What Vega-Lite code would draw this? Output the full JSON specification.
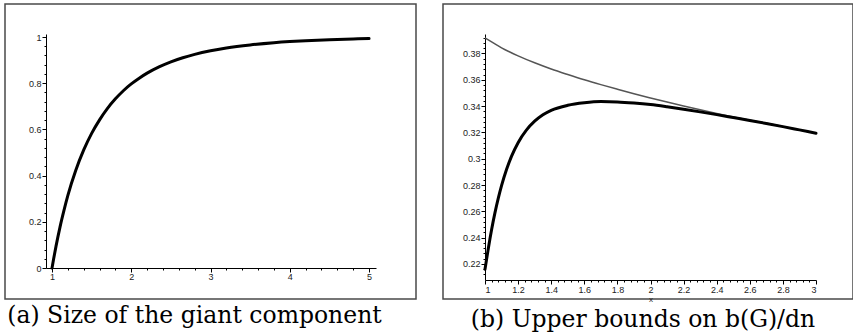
{
  "$schema": "https://vega.github.io/schema/vega-lite/v6.json",
  "padding": {"left": 4, "top": 3, "right": 0, "bottom": 0},
  "background": "white",
  "config": {
    "view": {"stroke": "#4a4a4a", "strokeWidth": 1.5},
    "axis": {"labelFont": "Liberation Sans", "labelFontSize": 9, "labelColor": "#222", "domainColor": "black", "tickColor": "black", "grid": false, "titleFont": "Liberation Sans", "titleFontSize": 8, "titleFontWeight": "normal", "titleColor": "#222", "domainWidth": 1, "tickWidth": 1},
    "title": {"font": "DejaVu Serif", "fontSize": 23.5, "fontWeight": "normal", "color": "black", "orient": "bottom", "offset": 5, "anchor": "middle"}
  },
  "datasets": {
    "giant": [
      {"c": 1.0, "size": 0}, {"c": 1.02, "size": 0.0392}, {"c": 1.05, "size": 0.0937}, {"c": 1.1, "size": 0.176},
      {"c": 1.15, "size": 0.248}, {"c": 1.2, "size": 0.314}, {"c": 1.3, "size": 0.423}, {"c": 1.4, "size": 0.511},
      {"c": 1.5, "size": 0.583}, {"c": 1.6, "size": 0.6414}, {"c": 1.7, "size": 0.691}, {"c": 1.8, "size": 0.7322},
      {"c": 1.9, "size": 0.7674}, {"c": 2.0, "size": 0.7968}, {"c": 2.1, "size": 0.8216}, {"c": 2.2, "size": 0.8435},
      {"c": 2.35, "size": 0.8705}, {"c": 2.5, "size": 0.8926}, {"c": 2.65, "size": 0.9103}, {"c": 2.8, "size": 0.925},
      {"c": 3.0, "size": 0.9405}, {"c": 3.2, "size": 0.9525}, {"c": 3.5, "size": 0.9657}, {"c": 3.8, "size": 0.9754},
      {"c": 4.0, "size": 0.9802}, {"c": 4.2, "size": 0.984}, {"c": 4.5, "size": 0.9883}, {"c": 4.8, "size": 0.9914},
      {"c": 5.0, "size": 0.993}
    ],
    "upper": [
      {"x": 1.0, "bound": 0.3918}, {"x": 1.05, "bound": 0.388}, {"x": 1.1, "bound": 0.3843}, {"x": 1.15, "bound": 0.3811},
      {"x": 1.2, "bound": 0.3782}, {"x": 1.3, "bound": 0.3729}, {"x": 1.4, "bound": 0.3682}, {"x": 1.5, "bound": 0.364},
      {"x": 1.6, "bound": 0.36}, {"x": 1.7, "bound": 0.3563}, {"x": 1.8, "bound": 0.3528}, {"x": 1.9, "bound": 0.3494},
      {"x": 2.0, "bound": 0.3462}, {"x": 2.1, "bound": 0.3431}, {"x": 2.2, "bound": 0.3401}, {"x": 2.3, "bound": 0.3372},
      {"x": 2.4, "bound": 0.3344}, {"x": 2.5, "bound": 0.3318}, {"x": 2.6, "bound": 0.3293}, {"x": 2.7, "bound": 0.3269},
      {"x": 2.8, "bound": 0.3244}, {"x": 2.9, "bound": 0.3219}, {"x": 3.0, "bound": 0.3194}
    ],
    "lower": [
      {"x": 1.0, "bound": 0.216}, {"x": 1.02, "bound": 0.2318}, {"x": 1.04, "bound": 0.2462}, {"x": 1.06, "bound": 0.2588},
      {"x": 1.08, "bound": 0.2698}, {"x": 1.1, "bound": 0.2795}, {"x": 1.13, "bound": 0.2918}, {"x": 1.16, "bound": 0.3018},
      {"x": 1.2, "bound": 0.3122}, {"x": 1.25, "bound": 0.3217}, {"x": 1.3, "bound": 0.3285}, {"x": 1.35, "bound": 0.3334},
      {"x": 1.4, "bound": 0.3368}, {"x": 1.5, "bound": 0.3406}, {"x": 1.6, "bound": 0.3425}, {"x": 1.7, "bound": 0.3434},
      {"x": 1.8, "bound": 0.3432}, {"x": 1.9, "bound": 0.3424}, {"x": 2.0, "bound": 0.3412}, {"x": 2.1, "bound": 0.3395},
      {"x": 2.2, "bound": 0.3376}, {"x": 2.3, "bound": 0.3356}, {"x": 2.4, "bound": 0.3335}, {"x": 2.5, "bound": 0.3313},
      {"x": 2.6, "bound": 0.3291}, {"x": 2.7, "bound": 0.3268}, {"x": 2.8, "bound": 0.3244}, {"x": 2.9, "bound": 0.3219},
      {"x": 3.0, "bound": 0.3194}
    ]
  },
  "spacing": 25,
  "hconcat": [
    {
      "width": 411,
      "height": 295,
      "title": {"text": "(a) Size of the giant component", "dx": -16},
      "data": {"name": "giant"},
      "layer": [
        {
          "mark": {"type": "line", "strokeWidth": 3, "color": "black", "strokeCap": "round", "interpolate": "monotone"},
          "encoding": {
            "x": {"field": "c", "type": "quantitative",
              "scale": {"domain": [0.924, 5.088], "range": [41, 371], "zero": false, "nice": false},
              "axis": {"orient": "bottom", "offset": -31, "values": [1, 2, 3, 4, 5], "format": "~g", "title": null, "tickSize": 4, "labelPadding": 0}},
            "y": {"field": "size", "type": "quantitative",
              "scale": {"domain": [0, 1.013], "range": [264, 30], "zero": false, "nice": false},
              "axis": {"orient": "left", "offset": -41, "values": [0, 0.2, 0.4, 0.6, 0.8, 1], "format": "~g", "title": null, "tickSize": 4, "labelPadding": 1}}
          }
        },
        {
          "mark": {"type": "line", "opacity": 0},
          "encoding": {
            "x": {"field": "c", "type": "quantitative",
              "scale": {"domain": [0.924, 5.088], "range": [41, 371], "zero": false, "nice": false},
              "axis": {"orient": "bottom", "offset": -31, "values": [1.2, 1.4, 1.6, 1.8, 2.2, 2.4, 2.6, 2.8, 3.2, 3.4, 3.6, 3.8, 4.2, 4.4, 4.6, 4.8], "labels": false, "domain": false, "title": null, "tickSize": 2}},
            "y": {"field": "size", "type": "quantitative",
              "scale": {"domain": [0, 1.013], "range": [264, 30], "zero": false, "nice": false},
              "axis": {"orient": "left", "offset": -41, "values": [0.04, 0.08, 0.12, 0.16, 0.24, 0.28, 0.32, 0.36, 0.44, 0.48, 0.52, 0.56, 0.64, 0.68, 0.72, 0.76, 0.84, 0.88, 0.92, 0.96], "labels": false, "domain": false, "title": null, "tickSize": 2}}
          }
        }
      ],
      "resolve": {"axis": {"x": "independent", "y": "independent"}}
    },
    {
      "width": 410,
      "height": 295,
      "title": {"text": "(b) Upper bounds on b(G)/dn", "dx": -5},
      "layer": [
        {
          "data": {"name": "upper"},
          "mark": {"type": "line", "strokeWidth": 1.5, "color": "#555", "interpolate": "monotone"},
          "encoding": {
            "x": {"field": "x", "type": "quantitative",
              "scale": {"domain": [1, 3], "range": [42, 373], "zero": false, "nice": false},
              "axis": {"orient": "bottom", "offset": -19, "values": [1.04, 1.08, 1.12, 1.16, 1.24, 1.28, 1.32, 1.36, 1.44, 1.48, 1.52, 1.56, 1.64, 1.68, 1.72, 1.76, 1.84, 1.88, 1.92, 1.96, 2.04, 2.08, 2.12, 2.16, 2.24, 2.28, 2.32, 2.36, 2.44, 2.48, 2.52, 2.56, 2.64, 2.68, 2.72, 2.76, 2.84, 2.88, 2.92, 2.96], "labels": false, "domain": false, "title": null, "tickSize": 2}},
            "y": {"field": "bound", "type": "quantitative",
              "scale": {"domain": [0.2078, 0.3948], "range": [276, 30], "zero": false, "nice": false},
              "axis": {"orient": "left", "offset": -42, "values": [0.212, 0.216, 0.224, 0.228, 0.232, 0.236, 0.244, 0.248, 0.252, 0.256, 0.264, 0.268, 0.272, 0.276, 0.284, 0.288, 0.292, 0.296, 0.304, 0.308, 0.312, 0.316, 0.324, 0.328, 0.332, 0.336, 0.344, 0.348, 0.352, 0.356, 0.364, 0.368, 0.372, 0.376, 0.384, 0.388, 0.392], "labels": false, "domain": false, "title": null, "tickSize": 2}}
          }
        },
        {
          "data": {"name": "lower"},
          "mark": {"type": "line", "strokeWidth": 3, "color": "black", "strokeCap": "round", "interpolate": "monotone"},
          "encoding": {
            "x": {"field": "x", "type": "quantitative",
              "scale": {"domain": [1, 3], "range": [42, 373], "zero": false, "nice": false},
              "axis": {"orient": "bottom", "offset": -19, "values": [1, 1.2, 1.4, 1.6, 1.8, 2, 2.2, 2.4, 2.6, 2.8, 3], "format": "~g", "title": "x", "titlePadding": 1, "tickSize": 4, "labelPadding": 1}},
            "y": {"field": "bound", "type": "quantitative",
              "scale": {"domain": [0.2078, 0.3948], "range": [276, 30], "zero": false, "nice": false},
              "axis": {"orient": "left", "offset": -42, "values": [0.22, 0.24, 0.26, 0.28, 0.3, 0.32, 0.34, 0.36, 0.38], "format": "~g", "title": null, "tickSize": 4, "labelPadding": 1}}
          }
        }
      ],
      "resolve": {"axis": {"x": "independent", "y": "independent"}}
    }
  ]
}
